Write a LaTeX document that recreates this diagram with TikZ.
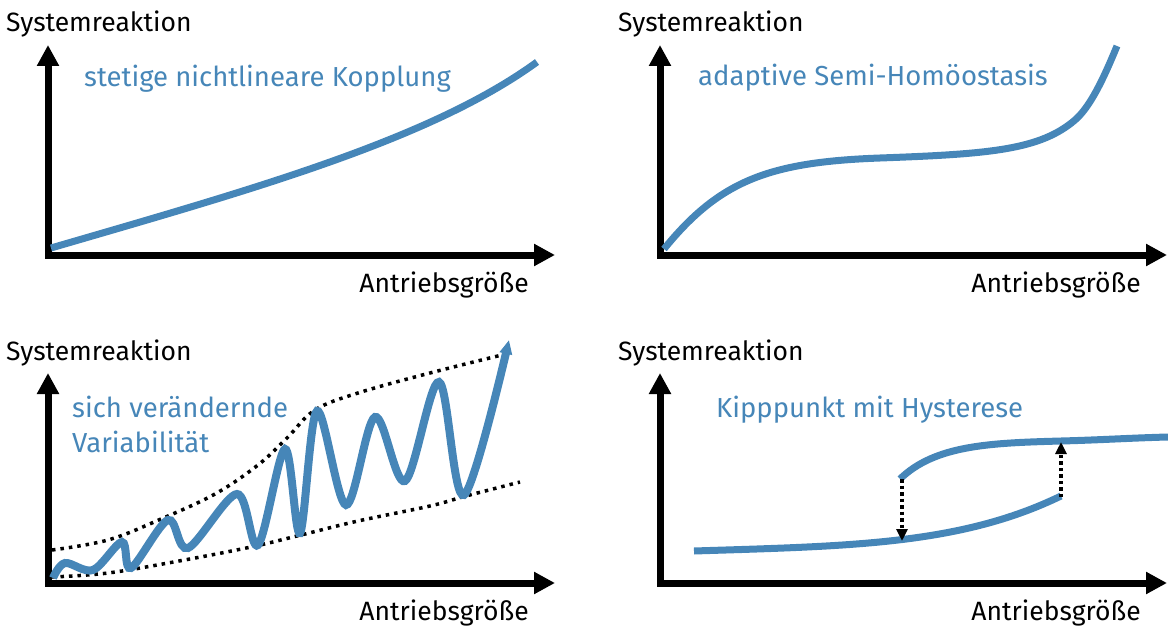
\documentclass[tikz,border=0pt]{standalone}
\usepackage{fontspec}
\setmainfont{Fira Sans}
\usetikzlibrary{arrows.meta}
\definecolor{curveblue}{RGB}{70,134,184}
\tikzset{
  axis/.style={line width=7pt, line join=miter,
    {Triangle[length=21pt,width=21pt]}-{Triangle[length=21pt,width=21pt]}},
  curve/.style={line width=7pt, curveblue},
  envelope/.style={line width=3.5pt, dash pattern=on 3.5pt off 5pt},
  jump/.style={line width=3.5pt, dash pattern=on 3.5pt off 3pt, -{Triangle[length=12pt,width=11pt]}},
  axlabel/.style={font=\fontsize{26.5}{30}\selectfont, inner sep=0pt},
  curvelabel/.style={font=\fontsize{27.5}{31}\selectfont, text=curveblue, inner sep=0pt, anchor=base west}
}
\newcommand{\panelaxes}[1]{%
  \coordinate (#1-o) at (48,255);
  \coordinate (#1-y) at (48,45);
  \coordinate (#1-x) at (555,255);
  \draw[axis] (#1-y) -- (#1-o) -- (#1-x);
  \node[axlabel, anchor=base west] (#1-ylab) at (6,32) {Systemreaktion};
  \node[axlabel, anchor=base east] (#1-xlab) at (529,292) {Antriebsgröße};
}
\begin{document}
\begin{tikzpicture}[x=1pt, y=-1pt]
\useasboundingbox (0,0) rectangle (1168,626);

% continuous nonlinear coupling
\begin{scope}
  \panelaxes{a}
  \draw[curve] (51,248) .. controls (250,190) and (430,140) .. (537,62);
  \node[curvelabel] (a-lab) at (84,86) {stetige nichtlineare Kopplung};
\end{scope}

% adaptive semi-homeostasis
\begin{scope}[shift={(612,0)}]
  \panelaxes{b}
\end{scope}
\draw[curve] (664,249) .. controls (720,180) and (770,162) .. (880,158)
  .. controls (990,154) and (1040,150) .. (1075,120)
  .. controls (1090,107) and (1103,80) .. (1117,46);
\node[curvelabel] (b-lab) at (698,85) {adaptive Semi-Homöostasis};

% changing variability
\begin{scope}[shift={(0,328)}]
  \panelaxes{c}
\end{scope}
\draw[envelope] plot[smooth, tension=0.6] coordinates
  {(52,550) (108,540) (161,519) (215,494) (258,465) (287,438) (315,410)
   (358,393) (430,373) (510,353)};
\draw[envelope] plot[smooth, tension=0.6] coordinates
  {(52,577) (108,573) (179,561) (251,547) (301,535) (358,521) (430,506)
   (466,496) (520,482)};
\draw[curve, line width=8pt, -{Triangle[length=14pt,width=12pt]}]
  plot[smooth, tension=0.55] coordinates
  {(53,578) (65,563) (93,570) (122,542) (131,568) (168,520) (188,548)
   (237,494) (258,545) (285,449) (300,533) (317,411) (346,505) (375,417)
   (405,481) (439,382) (464,495) (509,340)};
\node[curvelabel] (c-lab1) at (72,417) {sich verändernde};
\node[curvelabel] (c-lab2) at (72,452) {Variabilität};

% tipping point with hysteresis
\begin{scope}[shift={(612,328)}]
  \panelaxes{d}
\end{scope}
\draw[curve] (694,551) .. controls (850,546) and (960,545) .. (1061,496);
\draw[curve] (900,479) .. controls (935,445) and (990,443) .. (1061,441)
  .. controls (1100,440) and (1130,438) .. (1168,437);
\coordinate (d-down0) at (902,479);
\coordinate (d-down1) at (902,541);
\coordinate (d-up0) at (1061,497);
\coordinate (d-up1) at (1061,442);
\draw[jump] (d-down0) -- (d-down1);
\draw[jump] (d-up0) -- (d-up1);
\node[curvelabel] (d-lab) at (716,417) {Kipppunkt mit Hysterese};
\end{tikzpicture}
\end{document}
